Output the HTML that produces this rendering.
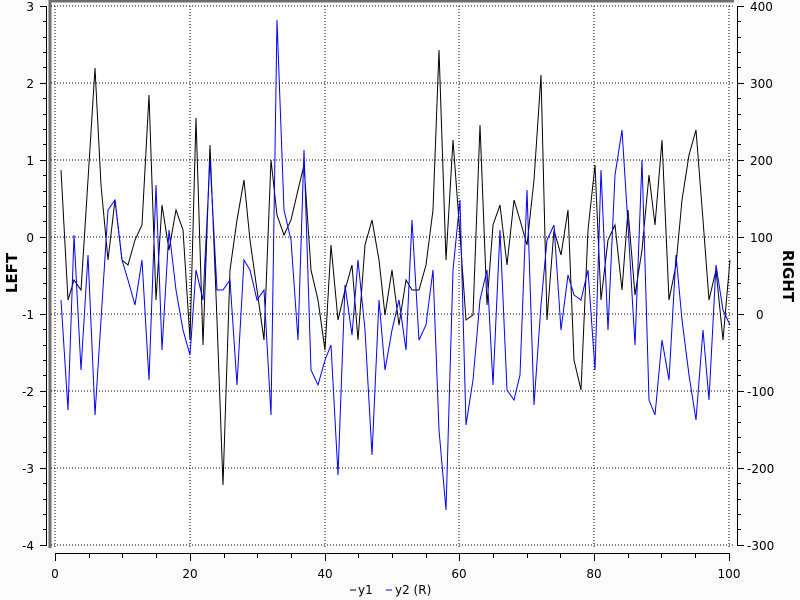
<!DOCTYPE html>
<html><head><meta charset="utf-8"><style>
body{margin:0;background:#fbfbfb;}
svg{display:block;font-family:"DejaVu Sans","Liberation Sans",sans-serif;}
</style></head><body>
<svg width="800" height="600" xmlns="http://www.w3.org/2000/svg">
<rect x="50" y="0" width="684" height="548" fill="#fff"/>
<path d="M50,548 V1 H734" fill="none" stroke="#6e6e6e" stroke-width="3"/>
<g stroke="#000" stroke-width="1" stroke-dasharray="1,2" fill="none">
<path d="M55,6V548M190,6V548M325,6V548M459,6V548M594,6V548M729,6V548"/>
<path d="M51,6H733M51,83H733M51,160H733M51,237H733M51,314H733M51,391H733M51,468H733M51,545H733"/>
</g>
<g stroke="#000" fill="none">
<path d="M46.5,6V546"/>
<path d="M40,6.5h7M40,83.5h7M40,160.5h7M40,237.5h7M40,314.5h7M40,391.5h7M40,468.5h7M40,545.5h7"/>
<path d="M43,21.5h4M43,37.5h4M43,52.5h4M43,67.5h4M43,98.5h4M43,114.5h4M43,129.5h4M43,144.5h4M43,175.5h4M43,191.5h4M43,206.5h4M43,221.5h4M43,252.5h4M43,268.5h4M43,283.5h4M43,298.5h4M43,329.5h4M43,345.5h4M43,360.5h4M43,375.5h4M43,406.5h4M43,422.5h4M43,437.5h4M43,452.5h4M43,483.5h4M43,499.5h4M43,514.5h4M43,529.5h4"/>
<path d="M737.5,6V546"/>
<path d="M737,6.5h7M737,83.5h7M737,160.5h7M737,237.5h7M737,314.5h7M737,391.5h7M737,468.5h7M737,545.5h7"/>
<path d="M737,21.5h4M737,37.5h4M737,52.5h4M737,67.5h4M737,98.5h4M737,114.5h4M737,129.5h4M737,144.5h4M737,175.5h4M737,191.5h4M737,206.5h4M737,221.5h4M737,252.5h4M737,268.5h4M737,283.5h4M737,298.5h4M737,329.5h4M737,345.5h4M737,360.5h4M737,375.5h4M737,406.5h4M737,422.5h4M737,437.5h4M737,452.5h4M737,483.5h4M737,499.5h4M737,514.5h4M737,529.5h4"/>
<path d="M55,553.5H729"/>
<path d="M55.5,553v8M190.5,553v8M325.5,553v8M459.5,553v8M594.5,553v8M729.5,553v8"/>
<path d="M89.5,553v5M122.5,553v5M156.5,553v5M224.5,553v5M257.5,553v5M291.5,553v5M358.5,553v5M392.5,553v5M426.5,553v5M493.5,553v5M527.5,553v5M560.5,553v5M628.5,553v5M661.5,553v5M695.5,553v5"/>
</g>
<g font-size="12" fill="#000" text-anchor="end">
<text x="34" y="11">3</text><text x="34" y="88">2</text><text x="34" y="165">1</text><text x="34" y="242">0</text><text x="34" y="319">-1</text><text x="34" y="396">-2</text><text x="34" y="473">-3</text><text x="34" y="550">-4</text>
</g>
<g font-size="12" fill="#000" text-anchor="start">
<text x="750" y="11">400</text><text x="750" y="88">300</text><text x="750" y="165">200</text><text x="750" y="242">100</text><text x="756" y="319">0</text><text x="747" y="396">-100</text><text x="747" y="473">-200</text><text x="747" y="550">-300</text>
</g>
<g font-size="12" fill="#000" text-anchor="middle">
<text x="55" y="578">0</text><text x="190" y="578">20</text><text x="325" y="578">40</text><text x="459" y="578">60</text><text x="594" y="578">80</text><text x="729" y="578">100</text>
</g>
<text transform="translate(17,273) rotate(-90)" font-size="15" font-weight="bold" text-anchor="middle">LEFT</text>
<text transform="translate(783,276) rotate(90)" font-size="15" font-weight="bold" text-anchor="middle">RIGHT</text>
<line x1="350" y1="590" x2="356" y2="590" stroke="#000"/>
<text x="358" y="594" font-size="12">y1</text>
<line x1="386" y1="590" x2="392" y2="590" stroke="#00f"/>
<text x="395" y="594" font-size="12">y2 (R)</text>
<polyline fill="none" stroke="#000" stroke-width="1" points="61,170 68,300 74,280 81,290 88,180 95,68 101,185 108,260 115,200 122,260 128,265 135,240 142,225 149,95 156,300 162,205 169,250 176,210 183,230 190,340 196,118 203,345 210,145 217,320 223,485 230,270 237,220 244,180 250,240 257,290 264,340 271,160 277,215 284,235 291,220 298,190 304,165 311,270 318,300 325,350 331,245 338,320 345,290 352,265 358,340 365,245 372,220 379,260 385,315 392,270 399,325 406,280 412,290 419,290 426,265 433,210 439,50 446,260 453,140 460,235 466,320 473,315 480,125 487,305 493,225 500,205 507,265 514,200 520,220 527,245 534,180 541,75 547,320 554,230 561,255 568,210 574,360 581,390 588,230 595,165 601,300 608,240 615,225 622,290 628,210 635,295 642,250 649,175 655,225 662,140 669,300 676,265 682,200 689,155 696,130 703,220 709,300 716,270 723,340 730,260"/>
<polyline fill="none" stroke="#00f" stroke-width="1" points="61,300 68,410 74,235 81,370 88,255 95,415 101,320 108,210 115,200 122,260 128,280 135,305 142,260 149,380 156,185 162,350 169,230 176,290 183,330 190,355 196,270 203,300 210,160 217,290 223,290 230,280 237,385 244,260 250,270 257,300 264,290 271,415 277,20 284,210 291,240 298,340 304,150 311,370 318,385 325,360 331,345 338,475 345,285 352,335 358,260 365,330 372,455 379,300 385,370 392,330 399,300 406,350 412,220 419,340 426,325 433,270 439,430 446,510 453,270 460,200 466,425 473,380 480,300 487,270 493,385 500,230 507,390 514,400 520,375 527,190 534,405 541,305 547,240 554,225 561,330 568,275 574,295 581,300 588,270 595,370 601,170 608,330 615,175 622,130 628,225 635,345 642,160 649,400 655,415 662,340 669,380 676,255 682,320 689,375 696,420 703,330 709,400 716,265 723,310 730,325"/>
</svg>
</body></html>
